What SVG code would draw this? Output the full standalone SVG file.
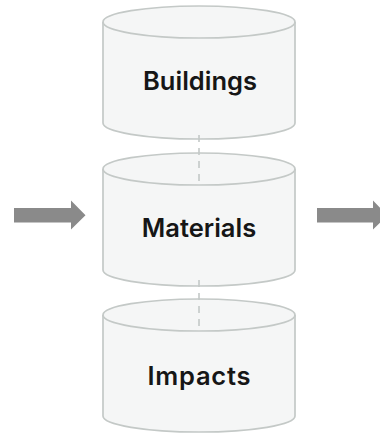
<svg xmlns="http://www.w3.org/2000/svg" width="380" height="433" viewBox="0 0 380 433">
<defs>
<style>
.cyl{fill:#f5f6f6;stroke:#c4c9c7;stroke-width:1.7}
.lbl{font-family:Inter,"Liberation Sans",Arial,sans-serif;font-weight:600;font-size:25.5px;fill:#161616;text-anchor:middle}
.conn{stroke:#c4c9c7;stroke-width:1.6;stroke-dasharray:7 6;fill:none}
.arr{fill:#8a8a8a}
</style>
</defs>
<rect width="380" height="433" fill="#ffffff"/>
<g id="buildings">
<path class="cyl" d="M103,22 v101 a96,16 0 0 0 192,0 v-101 a96,16 0 0 0 -192,0 z"/>
<path class="cyl" fill="none" d="M103,22 a96,16 0 0 0 192,0"/>
<text class="lbl" x="200" y="90">Buildings</text>
</g>
<g id="materials">
<path class="cyl" d="M103,169 v101 a96,16 0 0 0 192,0 v-101 a96,16 0 0 0 -192,0 z"/>
<path class="cyl" fill="none" d="M103,169 a96,16 0 0 0 192,0"/>
<text class="lbl" x="199" y="237">Materials</text>
</g>
<g id="impacts">
<path class="cyl" d="M103,315 v101 a96,16 0 0 0 192,0 v-101 a96,16 0 0 0 -192,0 z"/>
<path class="cyl" fill="none" d="M103,315 a96,16 0 0 0 192,0"/>
<text class="lbl" x="199" y="385" textLength="103">Impacts</text>
</g>
<g id="connectors">
<line class="conn" x1="199" y1="135" x2="199" y2="185"/>
<line class="conn" x1="199" y1="280" x2="199" y2="331"/>
<polygon class="arr" points="14,208 71,208 71,200.5 85.5,215.3 71,229.5 71,222.5 14,222.5"/>
<polygon class="arr" points="317,208 373,208 373,200.5 387.5,215.3 373,229.5 373,222.5 317,222.5"/>
</g>
</svg>
